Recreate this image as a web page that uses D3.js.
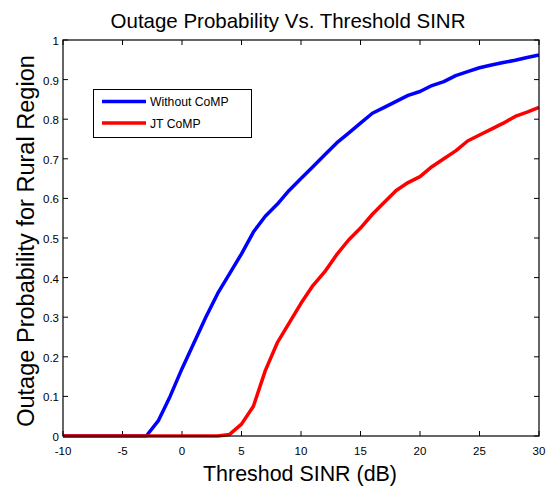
<!DOCTYPE html>
<html><head><meta charset="utf-8">
<script src="https://cdn.jsdelivr.net/npm/d3@7"></script>
<style>body{margin:0;background:#fff}svg{display:block}text{font-family:"Liberation Sans",Arial,sans-serif;fill:#000}</style>
</head><body>
<svg id="c" width="547" height="487"></svg>
<script>
const sinr = d3.range(-10, 31, 1);
const withoutCoMP = [0,0,0,0,0,0,0,0,0.038,0.10,0.17,0.235,0.30,0.36,0.41,0.46,0.515,0.555,0.585,0.62,0.65,0.68,0.71,0.74,0.765,0.79,0.815,0.83,0.845,0.86,0.87,0.885,0.895,0.91,0.92,0.93,0.937,0.943,0.949,0.956,0.962];
const jtCoMP = [0,0,0,0,0,0,0,0,0,0,0,0,0,0,0.004,0.03,0.075,0.165,0.235,0.285,0.335,0.38,0.415,0.458,0.495,0.525,0.56,0.59,0.62,0.64,0.655,0.68,0.70,0.72,0.745,0.76,0.775,0.79,0.807,0.818,0.83];
const seriesNames = ["Without CoMP","JT CoMP"];
const seriesColors = ["#0000ff","#ff0000"];
const xTicks = [-10,-5,0,5,10,15,20,25,30];
const yTicks = [0,0.1,0.2,0.3,0.4,0.5,0.6,0.7,0.8,0.9,1];

const svg = d3.select("#c");
const L=63, R=539, T=40, B=436;
const x = d3.scaleLinear().domain([-10,30]).range([L,R]);
const y = d3.scaleLinear().domain([0,1]).range([B,T]);

const tk = 5;
const g = svg.append("g");
xTicks.forEach(v=>{
  g.append("line").attr("x1",x(v)).attr("x2",x(v)).attr("y1",B).attr("y2",B-tk).attr("stroke","#000");
  g.append("line").attr("x1",x(v)).attr("x2",x(v)).attr("y1",T).attr("y2",T+tk).attr("stroke","#000");
  g.append("text").attr("x",x(v)).attr("y",B+19).attr("text-anchor","middle").attr("font-size",11.5).text(v);
});
yTicks.forEach(v=>{
  g.append("line").attr("x1",L).attr("x2",L+tk).attr("y1",y(v)).attr("y2",y(v)).attr("stroke","#000");
  g.append("line").attr("x1",R).attr("x2",R-tk).attr("y1",y(v)).attr("y2",y(v)).attr("stroke","#000");
  g.append("text").attr("x",L-4).attr("y",y(v)+5).attr("text-anchor","end").attr("font-size",11.5).text(v);
});

const line = d3.line().x((d,i)=>x(sinr[i])).y(d=>y(d));
[withoutCoMP, jtCoMP].forEach((s,k)=>{
  svg.append("path").attr("d",line(s)).attr("fill","none").attr("stroke",seriesColors[k]).attr("stroke-width",3.5).attr("stroke-linejoin","round");
});

svg.append("rect").attr("x",L).attr("y",T).attr("width",R-L).attr("height",B-T).attr("fill","none").attr("stroke","#000").attr("stroke-width",1.2);

const lg = svg.append("g");
lg.append("rect").attr("x",93.5).attr("y",89.5).attr("width",158).attr("height",48).attr("fill","#fff").attr("stroke","#000");
seriesNames.forEach((n,k)=>{
  const yy = 101.5 + k*21.5;
  lg.append("line").attr("x1",102).attr("x2",146).attr("y1",yy).attr("y2",yy).attr("stroke",seriesColors[k]).attr("stroke-width",3.5);
  lg.append("text").attr("x",150).attr("y",yy+4.5).attr("font-size",12.2).text(n);
});

function fit(t, w){ const l=t.node().getComputedTextLength(); const fs=+t.attr("font-size"); t.attr("font-size", fs*w/l); }
fit(svg.append("text").attr("x",288).attr("y",28).attr("text-anchor","middle").attr("font-size",20).text("Outage Probability Vs. Threshold SINR"), 355);
fit(svg.append("text").attr("x",300).attr("y",481).attr("text-anchor","middle").attr("font-size",21).text("Threshod SINR (dB)"), 194);
fit(svg.append("text").attr("transform","translate(34,241) rotate(-90)").attr("text-anchor","middle").attr("font-size",21).text("Outage Probability for Rural Region"), 372);
</script>
</body></html>
